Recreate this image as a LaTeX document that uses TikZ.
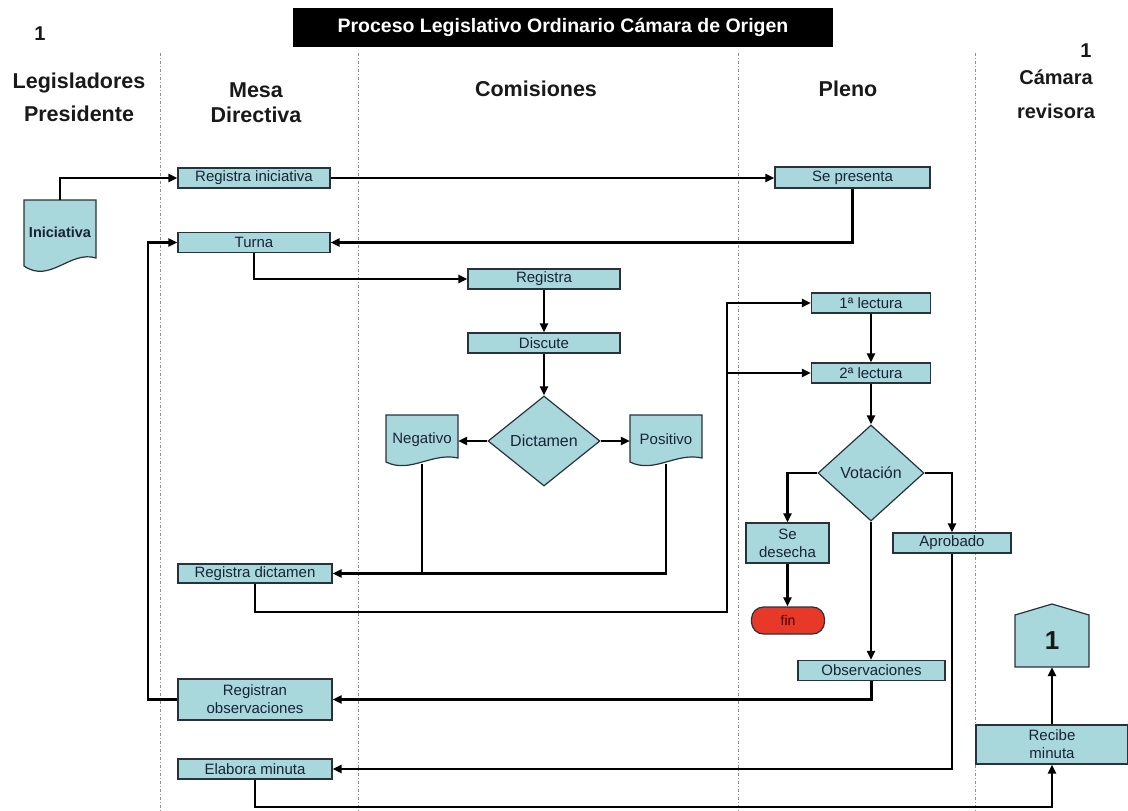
\documentclass[tikz,border=0pt]{standalone}
\usepackage{fontspec}
\setmainfont{Liberation Sans}
\usetikzlibrary{arrows.meta,shapes.geometric,calc}
\definecolor{boxfill}{RGB}{168,216,220}
\definecolor{boxline}{RGB}{40,50,60}
\definecolor{boxtext}{RGB}{25,35,55}
\definecolor{finred}{RGB}{232,56,40}
\definecolor{lanegray}{RGB}{140,140,140}
\begin{document}
\begin{tikzpicture}[x=1pt,y=-1pt,
 box/.style={draw=boxline,fill=boxfill,line width=1.2pt,inner sep=0pt,font=\fontsize{15}{18}\selectfont,text=boxtext,align=center},
 docshape/.style={draw=boxline,fill=boxfill,line width=1.2pt},
 lbl/.style={inner sep=0pt,font=\fontsize{15}{18}\selectfont,text=boxtext,align=center},
 arr/.style={line width=2.5pt,-{Triangle[length=9pt,width=8pt]}},
 conn/.style={line width=2.5pt},
 lane/.style={draw=lanegray,line width=0.8pt,dash pattern=on 3pt off 2pt on 1pt off 2pt},
 hdr/.style={inner sep=0pt,text=black!90,align=center},
 dia/.style={box,diamond,aspect=1.2,font=\fontsize{16}{18}\selectfont}
]
\useasboundingbox (0,0) rectangle (1128,811);
% lanes
\draw[lane] (160,53) -- (160,811);
\draw[lane] (358,53) -- (358,811);
\draw[lane] (738,53) -- (738,811);
\draw[lane] (975,53) -- (975,811);
% title & headers
\node[fill=black,text=white,minimum width=540pt,minimum height=39pt,inner sep=0pt,font=\fontsize{19.5}{22}\selectfont\bfseries] (title) at (563,27.5) {Proceso Legislativo Ordinario Cámara de Origen};
\node[hdr,font=\fontsize{20}{24}\selectfont\bfseries] (one1) at (40,34) {1};
\node[hdr,font=\fontsize{21.5}{33}\selectfont\bfseries] (hleg) at (79,97) {Legisladores\\Presidente};
\node[hdr,font=\fontsize{21.5}{25}\selectfont\bfseries] (hmesa) at (256,103) {Mesa\\Directiva};
\node[hdr,font=\fontsize{21.5}{25}\selectfont\bfseries] (hcom) at (536,89) {Comisiones};
\node[hdr,font=\fontsize{21.5}{25}\selectfont\bfseries] (hple) at (848,89) {Pleno};
\node[hdr,font=\fontsize{20}{24}\selectfont\bfseries] (one2) at (1086,51) {1};
\node[hdr,font=\fontsize{20}{34}\selectfont\bfseries] (hcam) at (1056,94) {Cámara\\revisora};
% documents
\draw[docshape] (24,200) -- (96,200) -- (96,258) .. controls (70,250) and (50,284) .. (24,266) -- cycle;
\node[lbl,minimum width=72pt,minimum height=64pt,font=\fontsize{14.5}{17}\selectfont\bfseries] (ini) at (60,232) {Iniciativa};
\draw[docshape] (386,415) -- (458,415) -- (458,458) .. controls (432,452) and (410,474) .. (386,462) -- cycle;
\node[lbl,minimum width=72pt,minimum height=49pt] (neg) at (422,439.5) {Negativo};
\draw[docshape] (630,415) -- (702,415) -- (702,458) .. controls (676,452) and (654,474) .. (630,462) -- cycle;
\node[lbl,minimum width=72pt,minimum height=49pt] (pos) at (666,439.5) {Positivo};
% boxes
\node[box,minimum width=152pt,minimum height=20pt] (regini) at (254,178) {Registra iniciativa};
\node[box,minimum width=152pt,minimum height=20pt] (turma) at (254,242.5) {Turna};
\node[box,minimum width=155pt,minimum height=21pt] (sepres) at (852.5,177.5) {Se presenta};
\node[box,minimum width=152pt,minimum height=20pt] (regis) at (544,279) {Registra};
\node[box,minimum width=152pt,minimum height=20pt] (discu) at (544,343) {Discute};
\node[dia,minimum width=112pt,minimum height=90pt] (dict) at (544,441) {Dictamen};
\node[box,minimum width=154pt,minimum height=19pt] (regdic) at (255,573.5) {Registra dictamen};
\node[box,minimum width=154pt,minimum height=41pt] (regobs) at (255,699.5) {Registran\\observaciones};
\node[box,minimum width=154pt,minimum height=20pt] (elab) at (255,769) {Elabora minuta};
\node[box,minimum width=119pt,minimum height=20pt] (lec1) at (871,303) {1ª lectura};
\node[box,minimum width=119pt,minimum height=20pt] (lec2) at (871,373) {2ª lectura};
\node[dia,minimum width=106pt,minimum height=96pt] (vot) at (871,473) {Votación};
\node[box,minimum width=83pt,minimum height=40pt] (sedes) at (787.5,543) {Se\\desecha};
\node[box,minimum width=118pt,minimum height=20pt] (apro) at (952,543) {Aprobado};
\node[box,fill=finred,rounded corners=12pt,minimum width=73pt,minimum height=27pt,text=black!75!red,font=\fontsize{14}{16}\selectfont] (fin) at (788,620.5) {fin};
\node[box,minimum width=147pt,minimum height=20pt] (obs) at (871.5,670.5) {Observaciones};
\node[box,minimum width=152pt,minimum height=39pt] (recibe) at (1052,744.5) {Recibe\\minuta};
\draw[docshape] (1015,615) -- (1052,604) -- (1089,615) -- (1089,667) -- (1015,667) -- cycle;
\node[lbl,minimum width=74pt,minimum height=52pt,text=black!90,font=\fontsize{26}{30}\selectfont\bfseries] (con) at (1052,641) {1};
% connectors
\draw[arr] (ini.north) |- (regini.west);
\draw[arr] (regini.east) -- (regini.east -| sepres.west);
\draw[arr] (sepres.south) |- (turma.east);
\draw[arr] (turma.south) |- (regis.west);
\draw[arr] (regis.south) -- (discu.north);
\draw[arr] (discu.south) -- (dict.north);
\draw[arr] (dict.west) -- (dict.west -| neg.east);
\draw[arr] (dict.east) -- (dict.east -| pos.west);
\draw[arr] (pos.south) |- (regdic.east);
\draw[conn] (neg.south) -- (neg.south |- regdic.east);
\coordinate (j1) at (727,612);
\draw[arr] (regdic.south) |- (j1) |- (lec1.west);
\draw[arr] (j1 |- lec2.west) -- (lec2.west);
\draw[arr] (lec1.south) -- (lec2.north);
\draw[arr] (lec2.south) -- (vot.north);
\draw[arr] (vot.west) -| (sedes.north);
\draw[arr] (vot.east) -| (apro.north);
\draw[arr] (vot.south) -- (vot.south |- obs.north);
\draw[arr] (sedes.south) -- (sedes.south |- fin.north);
\draw[arr] (obs.south) |- (regobs.east);
\draw[arr] (apro.south) |- (elab.east);
\coordinate (j2) at (148,0);
\draw[arr] (regobs.west) -- (regobs.west -| j2) |- (turma.west);
\coordinate (j3) at (0,807);
\draw[arr] (elab.south) |- (j3 -| recibe.south) -- (recibe.south);
\draw[arr] (recibe.north) -- (con.south);
\end{tikzpicture}
\end{document}
